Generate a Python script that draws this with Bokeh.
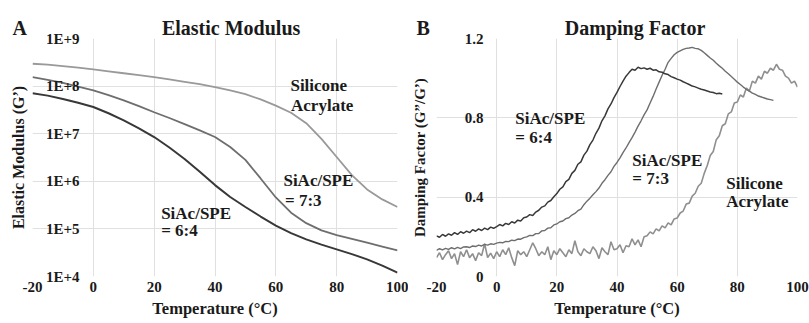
import numpy as np
from bokeh.plotting import figure
from bokeh.models import FixedTicker
from bokeh.layouts import row
from bokeh.embed import file_html
from bokeh.resources import INLINE
from bokeh.core.properties import value

FONT = "Liberation Serif"
INK = "#1a1a1a"
NBSP = "\u00a0"

# ---------------- data ----------------
x_ticks = [-20, 0, 20, 40, 60, 80, 100]
x_tick_labels = ["-20", "0", "20", "40", "60", "80", "100"]

a_y_ticks = [10000, 100000, 1000000, 10000000, 100000000, 1000000000]
a_y_tick_labels = ["1E+4", "1E+5", "1E+6", "1E+7", "1E+8", "1E+9"]

b_y_ticks = [0, 0.4, 0.8, 1.2]
b_y_tick_labels = ["0", "0.4", "0.8", "1.2"]

# Panel A: elastic modulus, log10(G') read every 5 degC
temp_mod = [-20, -15, -10, -5, 0, 5, 10, 15, 20, 25, 30, 35, 40, 45, 50,
            55, 60, 65, 70, 75, 80, 85, 90, 95, 100]
log_g_sa = [8.47, 8.45, 8.42, 8.39, 8.35, 8.31, 8.27, 8.23, 8.19, 8.14, 8.09,
            8.04, 7.98, 7.91, 7.83, 7.72, 7.59, 7.44, 7.22, 6.89, 6.51, 6.13,
            5.83, 5.62, 5.46]
log_g_73 = [8.19, 8.13, 8.07, 7.99, 7.91, 7.81, 7.70, 7.58, 7.45, 7.33, 7.20,
            7.07, 6.93, 6.72, 6.45, 6.06, 5.66, 5.34, 5.12, 4.97, 4.87, 4.79,
            4.71, 4.63, 4.55]
log_g_64 = [7.85, 7.80, 7.73, 7.65, 7.56, 7.43, 7.28, 7.11, 6.93, 6.71, 6.47,
            6.20, 5.92, 5.67, 5.46, 5.26, 5.07, 4.91, 4.78, 4.67, 4.57, 4.47,
            4.36, 4.23, 4.08]

# Panel B: damping factor, read every 1 degC
temp_64 = list(range(-20, 76))
damp_64 = [0.205, 0.198, 0.212, 0.203, 0.215, 0.208, 0.221, 0.212, 0.226, 0.218,
           0.229, 0.221, 0.236, 0.228, 0.240, 0.232, 0.244, 0.236, 0.249, 0.243,
           0.252, 0.262, 0.255, 0.268, 0.262, 0.276, 0.270, 0.284, 0.280, 0.296,
           0.300, 0.312, 0.308, 0.325, 0.334, 0.350, 0.356, 0.375, 0.383, 0.402,
           0.418, 0.440, 0.452, 0.478, 0.490, 0.520, 0.535, 0.566, 0.578, 0.612,
           0.632, 0.665, 0.688, 0.722, 0.748, 0.785, 0.810, 0.845, 0.870, 0.902,
           0.928, 0.958, 0.985, 1.010, 1.028, 1.045, 1.040, 1.055, 1.048, 1.052,
           1.045, 1.050, 1.040, 1.042, 1.032, 1.030, 1.022, 1.018, 1.008, 1.002,
           0.995, 0.990, 0.982, 0.975, 0.968, 0.960, 0.956, 0.950, 0.944, 0.940,
           0.935, 0.930, 0.928, 0.922, 0.924, 0.920]

temp_73 = list(range(-20, 93))
damp_73 = [0.132, 0.140, 0.134, 0.142, 0.137, 0.145, 0.139, 0.147, 0.141, 0.149,
           0.150, 0.146, 0.154, 0.151, 0.158, 0.154, 0.162, 0.158, 0.165, 0.162,
           0.168, 0.172, 0.170, 0.177, 0.176, 0.183, 0.181, 0.189, 0.188, 0.196,
           0.200, 0.207, 0.206, 0.216, 0.217, 0.230, 0.232, 0.244, 0.246, 0.260,
           0.265, 0.276, 0.280, 0.292, 0.296, 0.310, 0.318, 0.332, 0.340, 0.362,
           0.380, 0.395, 0.412, 0.428, 0.446, 0.470, 0.488, 0.510, 0.528, 0.555,
           0.575, 0.598, 0.625, 0.648, 0.675, 0.700, 0.728, 0.758, 0.785, 0.815,
           0.840, 0.875, 0.908, 0.945, 0.980, 1.015, 1.045, 1.080, 1.100, 1.118,
           1.130, 1.138, 1.145, 1.150, 1.152, 1.155, 1.150, 1.148, 1.140, 1.128,
           1.115, 1.102, 1.090, 1.075, 1.062, 1.050, 1.035, 1.022, 1.008, 0.995,
           0.980, 0.968, 0.955, 0.944, 0.935, 0.925, 0.918, 0.910, 0.905, 0.900,
           0.895, 0.892, 0.888]

temp_sa = list(range(-20, 101))
damp_sa = [0.095, 0.120, 0.085, 0.110, 0.130, 0.090, 0.115, 0.060, 0.125, 0.100,
           0.135, 0.095, 0.115, 0.080, 0.120, 0.105, 0.165, 0.095, 0.118, 0.090,
           0.125, 0.100, 0.135, 0.110, 0.145, 0.095, 0.055, 0.130, 0.110, 0.125,
           0.100, 0.135, 0.170, 0.140, 0.105, 0.125, 0.110, 0.150, 0.085, 0.130,
           0.110, 0.140, 0.120, 0.100, 0.135, 0.115, 0.180, 0.125, 0.105, 0.140,
           0.125, 0.115, 0.150, 0.130, 0.090, 0.145, 0.125, 0.110, 0.175, 0.135,
           0.140, 0.160, 0.120, 0.155, 0.150, 0.190, 0.160, 0.185, 0.150, 0.200,
           0.205, 0.225, 0.215, 0.240, 0.230, 0.255, 0.245, 0.270, 0.260, 0.290,
           0.295, 0.320, 0.330, 0.365, 0.370, 0.405, 0.420, 0.455, 0.470, 0.520,
           0.560, 0.610, 0.630, 0.690, 0.710, 0.760, 0.770, 0.820, 0.830, 0.875,
           0.880, 0.915, 0.905, 0.950, 0.935, 0.985, 0.975, 1.010, 0.995, 1.035,
           1.025, 1.050, 1.040, 1.070, 1.045, 1.040, 1.010, 1.000, 0.975, 0.985,
           0.955]

# curve annotations (data coordinates)
a_note_x = [64.8, 65.0, 62.5, 63.0, 22.3, 22.3]
a_note_logy = [8.01, 7.59, 6.02, 5.60, 5.32, 4.97]
a_note_text = ["Silicone", "Acrylate", "SiAc/SPE", "= 7:3", "SiAc/SPE", "= 6:4"]

b_note_x = [6.2, 6.2, 45.1, 45.1, 76.3, 76.3]
b_note_y = [0.796, 0.703, 0.586, 0.494, 0.469, 0.376]
b_note_text = ["SiAc/SPE", "= 6:4", "SiAc/SPE", "= 7:3", "Silicone", "Acrylate"]

COL_64 = "#383838"
COL_73 = "#6e6e6e"
COL_SA = "#999999"


def make_fig(width, border_left, border_right, y_range, y_type, title):
    p = figure(width=width, height=323, x_range=(-20, 100), y_range=y_range,
               y_axis_type=y_type, output_backend="svg", toolbar_location=None,
               min_border_left=border_left, min_border_right=border_right,
               min_border_top=38, min_border_bottom=47)
    p.outline_line_color = None
    p.background_fill_color = "white"
    p.border_fill_color = "white"
    p.title.text = title
    p.title.align = "left"
    p.title.offset = -20
    p.title.standoff = 0
    p.title.text_font = FONT
    p.title.text_font_style = "bold"
    p.title.text_font_size = "20px"
    p.title.text_color = INK
    p.title.text_baseline = "alphabetic"
    for g in (p.xgrid[0], p.ygrid[0]):
        g.grid_line_color = "#e0e0e0"
        g.grid_line_width = 1
    xa = p.xaxis[0]
    xa.ticker = FixedTicker(ticks=x_ticks)
    xa.major_label_overrides = dict(zip(x_ticks, x_tick_labels))
    xa.axis_label = "Temperature (°C)"
    for ax in (xa, p.yaxis[0]):
        ax.axis_line_color = None
        ax.major_tick_line_color = None
        ax.minor_tick_line_color = None
        ax.major_tick_out = 0
        ax.major_tick_in = 0
        ax.major_label_text_font = FONT
        ax.major_label_text_font_style = "bold"
        ax.major_label_text_font_size = "15px"
        ax.major_label_text_color = INK
        ax.axis_label_text_font = FONT
        ax.axis_label_text_font_style = "bold"
        ax.axis_label_text_font_size = "16px"
        ax.axis_label_text_color = INK
    xa.axis_label_text_font_size = "16.5px"
    xa.major_label_standoff = 5
    xa.axis_label_standoff = 4
    return p


def add_text(p, xs, ys, texts):
    p.text(x=xs, y=ys, text=texts, text_font=value(FONT), text_font_style="bold",
           text_font_size="17px", text_color=INK, text_align="left",
           text_baseline="middle")


# ---------------- panel A ----------------
p1 = make_fig(408, 32, 11, (1e4, 1e9), "log",
              "A" + NBSP * 27 + "Elastic Modulus")
ya = p1.yaxis[0]
ya.ticker = FixedTicker(ticks=a_y_ticks)
ya.major_label_overrides = dict(zip(a_y_ticks, a_y_tick_labels))
ya.major_label_standoff = -47
ya.axis_label = "Elastic Modulus (G’)"
ya.axis_label_standoff = 16

p1.line(temp_mod, np.power(10.0, log_g_sa), line_color=COL_SA, line_width=1.8)
p1.line(temp_mod, np.power(10.0, log_g_73), line_color=COL_73, line_width=1.8)
p1.line(temp_mod, np.power(10.0, log_g_64), line_color=COL_64, line_width=2.0)
add_text(p1, a_note_x, list(np.power(10.0, a_note_logy)), a_note_text)

# ---------------- panel B ----------------
p2 = make_fig(401, 24, 12, (0, 1.2), "linear",
              "B" + NBSP * 27 + "Damping Factor")
yb = p2.yaxis[0]
yb.ticker = FixedTicker(ticks=b_y_ticks)
yb.major_label_overrides = dict(zip(b_y_ticks, b_y_tick_labels))
yb.major_label_standoff = -47
yb.axis_label = "Damping Factor (G”/G’)"
yb.axis_label_text_font_size = "15px"
yb.axis_label_standoff = 34

p2.line(temp_sa, damp_sa, line_color="#8f8f8f", line_width=1.6)
p2.line(temp_73, damp_73, line_color=COL_73, line_width=1.4)
p2.line(temp_64, damp_64, line_color=COL_64, line_width=1.5)
add_text(p2, b_note_x, b_note_y, b_note_text)

layout = row(p1, p2)
open("out.html", "w").write(file_html(layout, INLINE))
